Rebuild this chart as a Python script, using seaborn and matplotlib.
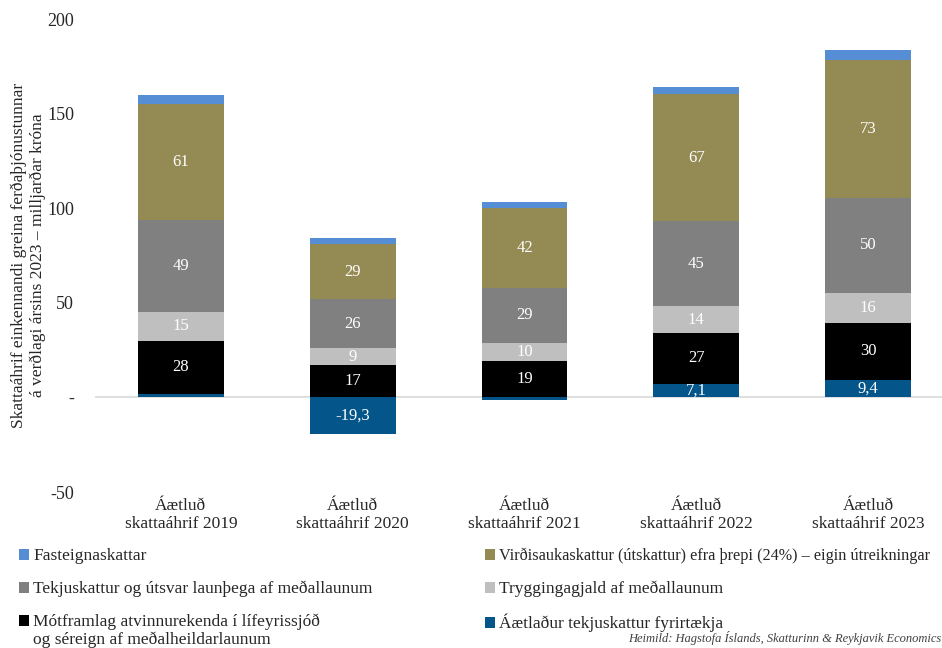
import matplotlib
matplotlib.use("Agg")
import matplotlib.pyplot as plt
import seaborn as sns
import numpy as np
from matplotlib.patches import Patch

# --- Data (milljarðar króna) ---
years = ["Áætluð\nskattaáhrif 2019", "Áætluð\nskattaáhrif 2020", "Áætluð\nskattaáhrif 2021",
         "Áætluð\nskattaáhrif 2022", "Áætluð\nskattaáhrif 2023"]
fyrirtaekja = [2.0, -19.3, -1.5, 7.1, 9.4]
motframlag = [28, 17, 19, 27, 30]
tryggingagjald = [15, 9, 10, 14, 16]
tekjuskattur = [49, 26, 29, 45, 50]
virdisauki = [61, 29, 42, 67, 73]
fasteign = [5.0, 3.5, 3.5, 4.0, 5.0]

fyrirtaekja_lbl = ["", "-19,3", "", "7,1", "9,4"]

names = {
    "fast": "Fasteignaskattar",
    "vsk": "Virðisaukaskattur (útskattur) efra þrepi (24%) – eigin útreikningar",
    "tekju": "Tekjuskattur og útsvar launþega af meðallaunum",
    "trygg": "Tryggingagjald af meðallaunum",
    "mot": "Mótframlag atvinnurekenda í lífeyrissjóð",
    "fyr": "Áætlaður tekjuskattur fyrirtækja",
}
mot_line2 = "og séreign af meðalheildarlaunum"
colors = {
    "fast": "#558ed5",
    "vsk": "#948a54",
    "tekju": "#808080",
    "trygg": "#bfbfbf",
    "mot": "#000000",
    "fyr": "#03558a",
}

sns.set_theme(style="white")
plt.rcParams["font.family"] = ["Liberation Serif", "DejaVu Serif"]

fig = plt.figure(figsize=(9.42, 6.48), dpi=100)
ax = fig.add_axes([95 / 942, 1 - 492 / 648, (954 - 95) / 942, (492 - 19) / 648])

# stack positive layers on top of the (positive part of the) company tax
fyr = np.array(fyrirtaekja)
base = np.where(fyr > 0, fyr, 0.0)
layers = [("mot", motframlag), ("trygg", tryggingagjald), ("tekju", tekjuskattur),
          ("vsk", virdisauki), ("fast", fasteign)]

sns.barplot(x=years, y=fyrirtaekja, color=colors["fyr"], width=0.5, ax=ax,
            saturation=1, edgecolor="none", linewidth=0)
for i, v in enumerate(fyrirtaekja):
    if fyrirtaekja_lbl[i]:
        ax.text(i, v / 2, fyrirtaekja_lbl[i], ha="center", va="center",
                color="white", fontsize=12)

bottom = base.copy()
for key, vals in layers:
    vals = np.array(vals, dtype=float)
    sns.barplot(x=years, y=vals, bottom=bottom, color=colors[key], width=0.5, ax=ax,
                saturation=1, edgecolor="none", linewidth=0)
    if key != "fast":
        for i, v in enumerate(vals):
            ax.text(i, bottom[i] + v / 2, f"{v:.0f}", ha="center", va="center",
                    color="white", fontsize=12)
    bottom = bottom + vals

ax.axhline(0, color="#d9d9d9", lw=1.2, zorder=0.5)
ax.set_xlim(-0.5, 4.5)
ax.set_ylim(-50, 200)
ax.set_yticks([-50, 0, 50, 100, 150, 200])
ax.set_yticklabels(["-50", "-", "50", "100", "150", "200"])
for s in ax.spines.values():
    s.set_visible(False)
ax.tick_params(axis="y", labelsize=13, length=0, pad=15)
ax.tick_params(axis="x", labelsize=12.5, length=0, pad=4)
ax.set_xlabel("")
ax.set_ylabel("Skattaáhrif einkennandi greina ferðaþjónustunnar\n"
              "á verðlagi ársins 2023 – milljarðar króna", fontsize=12.5)
ax.yaxis.set_label_coords(-0.057, 0.5)

order = ["fast", "tekju", "mot", "vsk", "trygg", "fyr"]
handles = [Patch(facecolor=colors[k], edgecolor="none") for k in order]
labels = [names[k] for k in order]
leg = fig.legend(handles, labels, loc="upper left", bbox_to_anchor=(0.013, 0.165), ncol=2,
                 frameon=False, fontsize=12.5, handlelength=0.55, handleheight=0.55,
                 handletextpad=0.25, labelspacing=0.95, columnspacing=6.5, borderaxespad=0)
for t in leg.get_texts():
    if t.get_text() == names["vsk"]:
        t.set_fontsize(11.7)

# second line of the two-line legend entry, placed right under its first line
fig.canvas.draw()
renderer = fig.canvas.get_renderer()
t_mot = [t for t in leg.get_texts() if t.get_text() == names["mot"]][0]
bb = t_mot.get_window_extent(renderer).transformed(fig.transFigure.inverted())
fig.text(bb.x0, bb.y0 - 0.001, mot_line2, ha="left", va="top", fontsize=12.5)

fig.text(0.999, 0.004, "Heimild: Hagstofa Íslands, Skatturinn & Reykjavik Economics",
         ha="right", va="bottom", fontsize=9, style="italic", color="#404040")

fig.savefig("out.png", dpi=100)
